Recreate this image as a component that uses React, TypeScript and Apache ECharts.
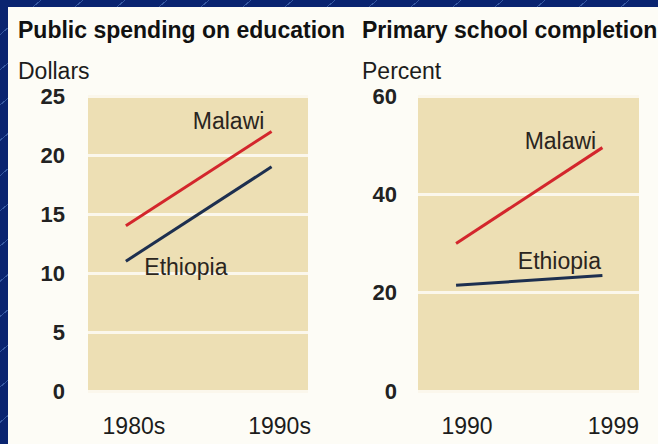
import React, { useEffect, useRef } from "react";
import * as echarts from "echarts";

const spendCategories = ["1980s", "1990s"];
const spendMalawi = [14, 22];
const spendEthiopia = [11, 19];
const completionCategories = ["1990", "1999"];
const completionMalawi = [30, 49.5];
const completionEthiopia = [21.5, 23.5];
const spendTicks = { min: 0, max: 25, interval: 5 };
const completionTicks = { min: 0, max: 60, interval: 20 };

const FONT = "'Liberation Sans', Arial, sans-serif";
const RED = "#d3262c";
const NAVY = "#1d2f4f";
const PLOT_BG = "#eddfb4";
const GRID_LINE = "#fbf7ec";
const TEXT = "#1c1c1c";

function toPoints(values: number[]) {
  return values.map((v, i) => [i, v]);
}

export default function App() {
  const ref = useRef<HTMLDivElement>(null);
  useEffect(() => {
    if (!ref.current) return;
    const chart = echarts.init(ref.current, undefined, { renderer: "svg" });

    const xAxisBase = (cats: string[], pad: number) => ({
      type: "value",
      min: -0.26,
      max: 1.25,
      axisLine: { show: false },
      axisTick: { show: false },
      splitLine: { show: false },
      axisLabel: {
        customValues: [0, 1],
        formatter: (v: number) => cats[Math.round(v)] ?? "",
        fontFamily: FONT,
        fontSize: 23,
        color: TEXT,
        margin: 23,
        padding: [0, 0, 0, pad],
      },
    });

    const yAxisBase = (t: { min: number; max: number; interval: number }, margin: number) => ({
      type: "value",
      min: t.min,
      max: t.max,
      interval: t.interval,
      axisLine: { show: false },
      axisTick: { show: false },
      splitLine: { show: true, lineStyle: { color: GRID_LINE, width: 3 } },
      axisLabel: {
        fontFamily: FONT,
        fontSize: 22,
        fontWeight: "bold",
        color: "#222",
        margin,
      },
    });

    const labelPoint = (coord: number[], text: string, offset: number[]) => ({
      coord,
      symbol: "circle",
      symbolSize: 1,
      itemStyle: { color: "rgba(0,0,0,0)" },
      label: {
        show: true,
        position: "inside",
        formatter: text,
        offset,
        fontFamily: FONT,
        fontSize: 23,
        color: "#2a2520",
      },
    });

    const lineSeries = (
      name: string,
      values: number[],
      color: string,
      idx: number,
      mark: any
    ) => ({
      type: "line",
      name,
      xAxisIndex: idx,
      yAxisIndex: idx,
      data: toPoints(values),
      showSymbol: false,
      symbol: "none",
      lineStyle: { color, width: 3 },
      itemStyle: { color },
      silent: true,
      markPoint: { silent: true, data: [mark] },
    });

    chart.setOption({
      animation: false,
      backgroundColor: "transparent",
      graphic: [
        {
          type: "rect",
          shape: { x: 8, y: 7, width: 650, height: 437 },
          style: { fill: "#fdfcf6" },
          z: -10,
        },
        {
          type: "text",
          x: 18,
          y: 30,
          style: {
            text: "Public spending on education",
            font: `bold 23px ${FONT}`,
            fill: "#111",
            verticalAlign: "middle",
          },
        },
        {
          type: "text",
          x: 362,
          y: 30,
          style: {
            text: "Primary school completion",
            font: `bold 23px ${FONT}`,
            fill: "#111",
            verticalAlign: "middle",
          },
        },
        {
          type: "text",
          x: 18,
          y: 71,
          style: {
            text: "Dollars",
            font: `23px ${FONT}`,
            fill: TEXT,
            verticalAlign: "middle",
          },
        },
        {
          type: "text",
          x: 362,
          y: 71,
          style: {
            text: "Percent",
            font: `23px ${FONT}`,
            fill: TEXT,
            verticalAlign: "middle",
          },
        },
      ],
      grid: [
        {
          left: 88,
          top: 96,
          width: 220,
          height: 295,
          show: true,
          backgroundColor: PLOT_BG,
          borderWidth: 0,
        },
        {
          left: 418,
          top: 96,
          width: 221,
          height: 295,
          show: true,
          backgroundColor: PLOT_BG,
          borderWidth: 0,
        },
      ],
      xAxis: [
        { ...xAxisBase(spendCategories, 16), gridIndex: 0 },
        { ...xAxisBase(completionCategories, 22), gridIndex: 1 },
      ],
      yAxis: [
        { ...yAxisBase(spendTicks, 23), gridIndex: 0 },
        { ...yAxisBase(completionTicks, 21), gridIndex: 1 },
      ],
      series: [
        lineSeries("Malawi", spendMalawi, RED, 0,
          labelPoint([1, spendMalawi[1]], "Malawi", [-43, -10])),
        lineSeries("Ethiopia", spendEthiopia, NAVY, 0,
          labelPoint([0, spendEthiopia[0]], "Ethiopia", [60, 6])),
        lineSeries("Malawi", completionMalawi, RED, 1,
          labelPoint([1, completionMalawi[1]], "Malawi", [-42, -7])),
        lineSeries("Ethiopia", completionEthiopia, NAVY, 1,
          labelPoint([1, completionEthiopia[1]], "Ethiopia", [-43, -14])),
      ],
    });
    return () => chart.dispose();
  }, []);

  return (
    <div
      style={{
        position: "fixed",
        left: 0,
        top: 0,
        width: 658,
        height: 444,
        backgroundColor: "#0a2470",
        backgroundImage:
          "repeating-linear-gradient(140deg, rgba(0,0,0,0) 0px, rgba(0,0,0,0) 26px, rgba(90,130,200,0.55) 26px, rgba(90,130,200,0.55) 27px)",
      }}
    >
      <div ref={ref} style={{ width: 658, height: 444 }} />
    </div>
  );
}
